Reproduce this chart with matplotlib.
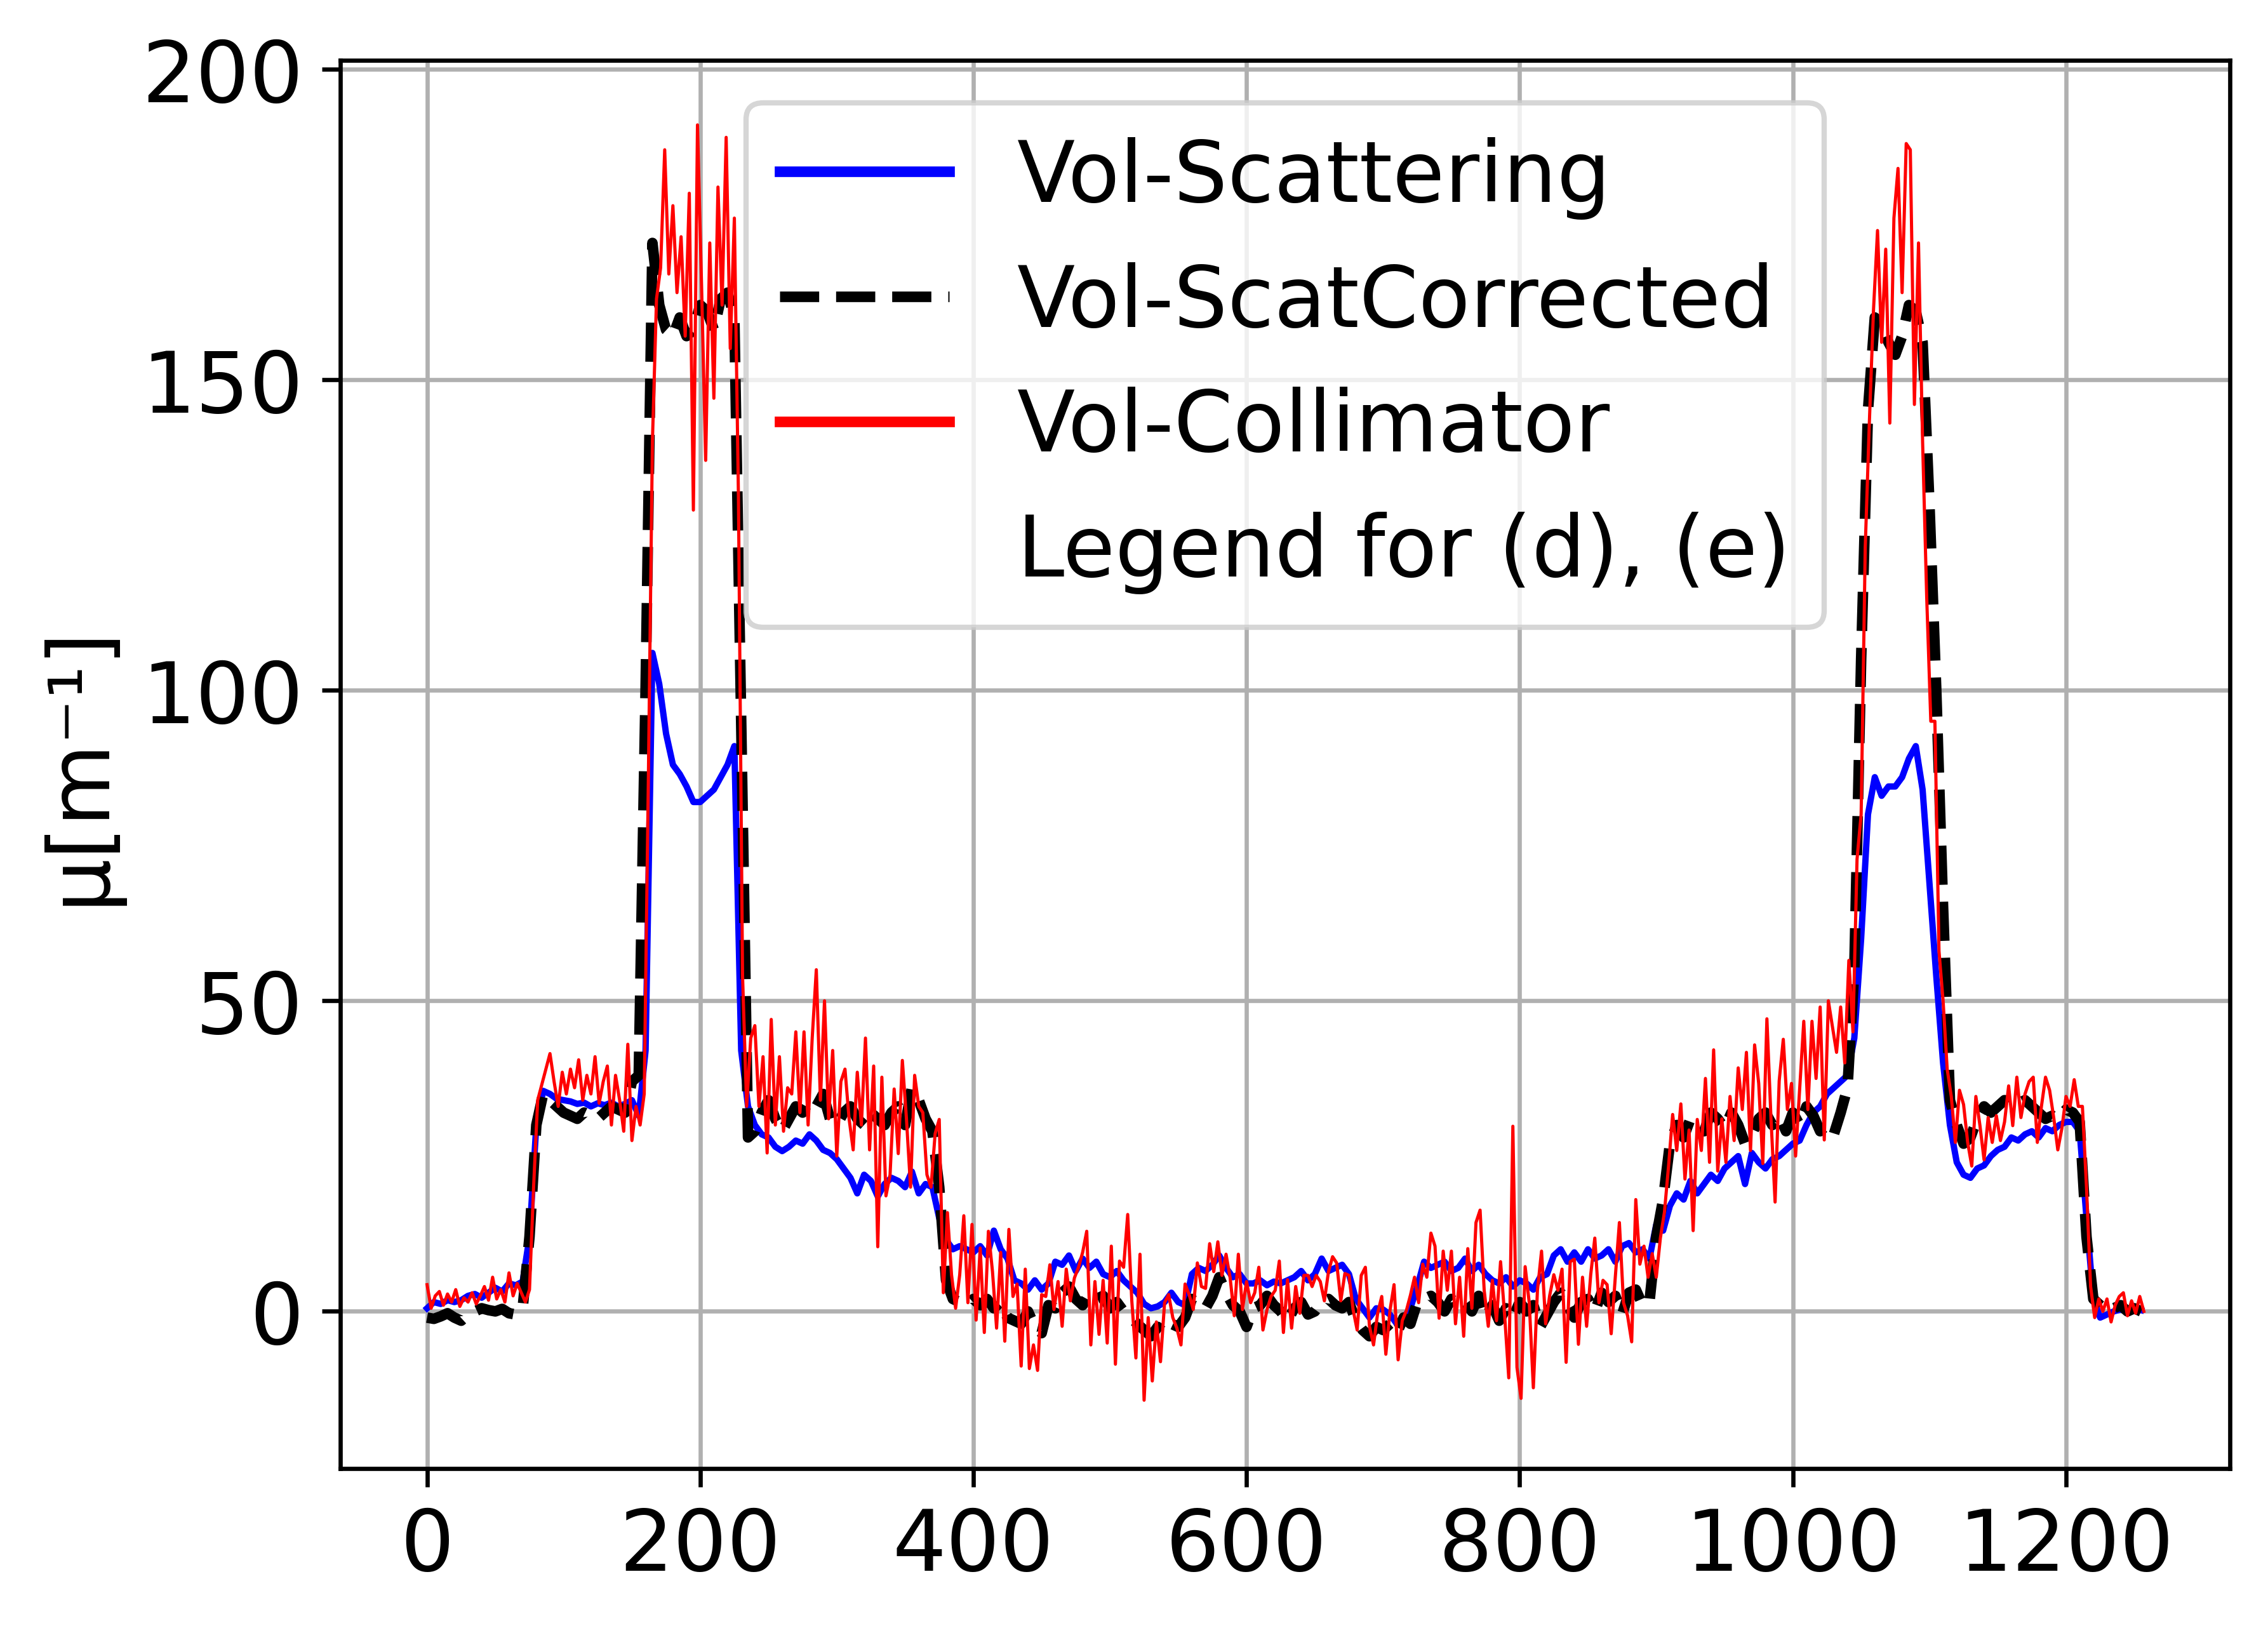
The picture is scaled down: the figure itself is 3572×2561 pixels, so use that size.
import numpy as np
import matplotlib
matplotlib.use("Agg")
import matplotlib.pyplot as plt

# ---------------- data ----------------
step_smooth = 5   # sample spacing of the blue / black profiles
step_red = 3      # sample spacing of the red profile

vol_scattering = [
    0.5, 1.5, 1.2, 1.8, 1.5, 1.8, 2.5, 2.8, 2.2, 3.0,
    3.8, 3.2, 4.5, 4.2, 4.8, 12, 30, 35.5, 35, 34.2,
    34, 33.8, 33.4, 33.6, 33, 33.5, 33.2, 33.6, 33, 33.4,
    34, 31.5, 42, 106, 101, 93, 88, 86.5, 84.5, 82,
    82, 83, 84, 86, 88, 91, 42, 33, 30, 28.5,
    28, 26.5, 25.8, 26.5, 27.5, 27, 28.5, 27.5, 26, 25.5,
    24.5, 23, 21.5, 19, 22, 21, 18.5, 20.5, 21.5, 21,
    20, 22.5, 19, 20.5, 20, 15, 11.5, 10, 10.5, 10,
    9.5, 10.5, 9, 13, 10, 8.5, 5, 4.5, 3.5, 5,
    3.5, 4.5, 8, 7.5, 9, 6.5, 8.5, 7, 8, 6,
    5.5, 6.5, 5, 4, 3, 1.2, 0.5, 0.8, 1.5, 3,
    1.5, 1, 6, 7, 6.5, 7.5, 9, 7, 5.5, 6,
    4.5, 4.5, 5, 4.2, 4.8, 4.5, 5, 5.5, 6.5, 5,
    6, 8.5, 6.5, 7, 7.5, 6, 2, 0.5, -1, 0.5,
    0.3, -0.5, -2, -1, 0.5, 4, 8, 7, 7.5, 8,
    6.5, 7, 8.5, 6.5, 7.5, 6, 5, 4.5, 5.5, 4,
    5, 4.5, 3.5, 5.5, 6, 9, 10, 8, 9.5, 8,
    10, 8.5, 9, 10, 8, 10.5, 11, 9.5, 10, 8.5,
    14, 13, 17, 19, 18, 21, 19, 20.5, 22, 21,
    23, 24, 25, 20.5, 25.5, 24, 23, 24.5, 25, 26,
    27, 27.5, 30, 32, 33, 35, 36, 37, 38, 44,
    60, 80, 86, 83, 84.5, 84.5, 86, 89, 91, 84,
    69, 54, 40, 30, 24, 22, 21.5, 23, 23.5, 25,
    26, 26.5, 28, 27.5, 28.5, 29, 28, 29.5, 29, 30,
    30.5, 30.5, 29, 15, 2, -1, -0.5, 0, 0.3, 0,
    0.5, 0.2,
]

vol_scatcorrected = [
    -1, -1.2, -0.8, -0.3, -1, -1.5, -0.5, 0, 0.5, 0.2,
    0, 0.4, -0.3, -0.5, 0.5, 12, 30, 35, 34, 33,
    32, 31.5, 31, 32, 31.5, 31, 32, 33, 32.5, 32,
    37, 38, 100, 172, 162, 158, 157, 160, 157, 158,
    162, 161, 158, 163, 164, 160, 95, 28, 29, 32,
    34, 31, 29, 31, 33, 32, 34, 33, 35, 31,
    30, 32, 33, 31, 30, 32, 31, 30, 32, 33,
    30, 36, 34, 31, 29, 20, 5, 2, 1.5, 1,
    2, 1, 2, 0.5, 1.5, -1, -1.5, -2, 0, -2.5,
    -3.5, 1, 0.5, 3, 4, 2, 1, 3, 2, 2.5,
    0.5, 1.5, 0, -1, -2, -3, -4, -2.5, -3.5, -2,
    -2.5, -1, 2, 1, 0.5, 2.5, 5.5, 3, 1, 0,
    -2.5, 0.5, 1, 2.5, 1, 0, -1.5, 0.5, 1.5, -0.5,
    0, 1.5, 2, 1, 0.5, 1.5, -1.5, -3, -4, -2.5,
    -3, -2, -3.5, -1, -2, 1.5, 2, 2.5, 1.5, 0,
    2, 1, 1.5, 0, 2.5, -1, 1, -1.5, 0.5, -1,
    1.5, 0, 1, -2.5, -0.5, 1.5, 3, 1, -1, 1.5,
    2, 0, 3, 1.5, 2.5, -0.5, 3, 3.5, 1, 1.5,
    12, 18, 27, 30, 28, 31, 30, 29, 32, 31,
    29.5, 32, 30, 27, 28.5, 31, 32, 30, 31.5, 29,
    32, 30, 33, 31.5, 29, 30, 28.5, 32, 36, 55,
    105, 145, 160, 159, 156, 154, 157, 162, 161, 156,
    130, 100, 65, 34, 30, 27, 28, 31, 33, 32,
    33, 34, 33, 33.5, 34, 33, 32, 31, 31.5, 31,
    32.5, 32, 30.5, 12, 2, 1, 0, 0.5, 1, 0,
    0.5, 0,
]

vol_collimator = [
    4.3, 0.5, 2.5, 3.2, 1.0, 2.8, 1.5, 3.5, 0.8, 2.2,
    1.5, 3.0, 1.2, 2.5, 4.0, 1.8, 5.5, 2.0, 3.5, 1.5,
    6.2, 2.5, 4.5, 3.0, 1.5, 3.5, 20, 34, 36.5, 39,
    41.5, 37, 33, 38.5, 35, 39, 36, 40.5, 34, 38,
    35, 41, 33.5, 37, 39.5, 30, 38, 34, 29, 43,
    27.5, 33, 30, 35, 85, 140, 163, 168, 187, 167,
    178, 164, 173, 157, 180, 129, 191, 165, 137, 172,
    147, 181, 162, 189, 155, 176, 131, 54, 33, 44,
    46, 33, 41, 25.5, 47, 30, 41, 29, 36, 35,
    45, 32, 45, 30, 44, 55, 34, 50, 31, 42,
    25, 37, 39, 31, 26, 38.5, 30, 44, 26, 39.5,
    10.4, 37.7, 18.6, 22, 35.8, 25.4, 40.4, 31, 20, 38,
    33, 32, 22, 20, 28.6, 30.9, 3, 15.9, 5.9, 0.5,
    5.9, 15.4, 1.4, 14, -1.4, 10.2, -3.4, 12.9, 6.4, -2.7,
    9.5, -4.8, 13.2, 2.4, 4.4, -8.8, 6.8, -9.2, -5.4, -9.5,
    2.7, 2.4, 7.5, 0.3, 4.8, -2.4, 6.8, 1.7, 5.4, 7.1,
    9.5, 12.9, -5.4, 4.8, -3.7, 5, -5.1, 10.5, -8.5, 8.1,
    7.1, 15.6, 1.7, -7.5, 9.2, -14.3, -1, -11.2, -1.7, -8.1,
    1.4, 2.7, -1, -2.7, -5.4, 4.4, 2.7, 0.3, 7.8, 4,
    3.7, 10.9, 6.4, 11.2, 5.8, 9.2, 5.4, -0.7, 9.2, 0.3,
    4.8, 1.4, 3, 7.1, -3, 0.3, 2.4, 3.4, 8.1, -3.4,
    5.1, -2.7, 4, -0.3, 5.8, 5.8, 4, 5.8, 4.8, 1.7,
    6.4, 8.8, 7.8, 1.7, 6.1, 5.8, 0.3, -3, 5.8, 7.1,
    -2.4, -5.4, -0.3, 2.4, -6.9, 0.1, 4.3, -7.8, -1.5, 0.1,
    2.6, 5.5, 1.4, 7.6, 5.5, 12.6, 10.5, -1.1, 9.7, 3.4,
    9.7, -2, 5.5, -4, 10.1, 0.5, 14.3, 16.3, 3.4, -2.4,
    5, -1.5, 8, -0.7, -10.7, 29.8, -9, -14, 7.2, 1.4,
    -12.3, 3.4, 9.7, -2, 2.6, 5.9, 3.4, 6.8, -8.2, 8,
    8.4, -5.3, 5.5, -2.4, 5.9, 11.8, 1.4, 5, 4.3, -3.6,
    5.5, 14.3, 1.4, -0.7, -4.9, 18, 7.6, 10.5, 5.5, 9.3,
    5.5, 11.8, 16, 23.4, 31.7, 25.9, 33.4, 21.3, 29.2, 13,
    30.9, 25.9, 37.5, 24, 42.1, 22.6, 31, 24, 34.6, 27.5,
    39.2, 32.5, 41.7, 25.9, 42.9, 36.7, 23.8, 47.1, 31, 17.6,
    37.1, 43.8, 32.5, 36.7, 25, 35.8, 46.7, 32.5, 46.7, 37.5,
    49, 27.6, 50, 45.8, 41.7, 49, 40, 56.5, 45, 72.8,
    80, 123, 143, 161, 174, 156, 171, 143, 176, 184,
    164, 188, 187, 146, 172, 140, 115, 95, 95, 58,
    50, 39, 34.6, 27.2, 35.6, 33.3, 27.2, 23.4, 34.6, 29.9,
    24.4, 31.2, 27.2, 31.5, 27.5, 30.5, 36.3, 29.9, 37.7, 31.2,
    35, 37, 37.7, 27.2, 33, 37.7, 35.6, 31.2, 26, 29.5,
    34.6, 33, 37.3, 33, 33, 20, 4, -1, 2, 0,
    2, -1.7, 1, 2.4, 3, -0.7, 1.7, -0.3, 2.4, 0,
]

labels = ["Vol-Scattering", "Vol-ScatCorrected", "Vol-Collimator",
          "Legend for (d), (e)"]

x_smooth = np.arange(len(vol_scattering)) * step_smooth
x_black = np.arange(len(vol_scatcorrected)) * step_smooth
x_red = np.arange(len(vol_collimator)) * step_red

# ---------------- figure ----------------
plt.rcParams["font.family"] = ["DejaVu Sans"]
plt.rcParams["font.size"] = 16

W, H = 3572, 2562
fig = plt.figure(figsize=(W / 600, H / 600), dpi=600)
ax = fig.add_axes([536 / W, 1 - 2314 / H, (3512 - 536) / W, (2314 - 96) / H])

ax.plot(x_smooth, vol_scattering, color="blue", lw=1.2, label=labels[0])
ax.plot(x_black, vol_scatcorrected, color="black", ls="--", lw=2.0, label=labels[1])
ax.plot(x_red, vol_collimator, color="red", lw=0.6, label=labels[2])
ax.plot([], [], " ", label=labels[3])

ax.set_xlim(-63.5, 1320)
ax.set_ylim(-25.3, 201.4)
ax.set_xticks([0, 200, 400, 600, 800, 1000, 1200])
ax.set_yticks([0, 50, 100, 150, 200])
ax.tick_params(labelsize=16)
ax.grid(True)
ax.set_ylabel("μ[m⁻¹]", fontsize=16)

leg = ax.legend(loc="upper center", fontsize=16)
for ln in leg.get_lines():
    ln.set_linewidth(2.0)

fig.savefig("out.png", dpi=600)
